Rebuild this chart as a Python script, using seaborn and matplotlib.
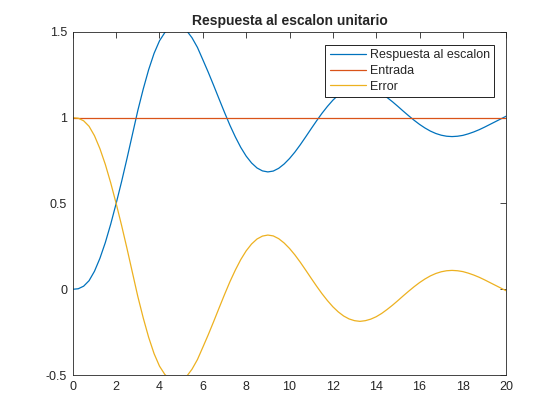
import matplotlib
matplotlib.use('Agg')

import pandas as pd
import matplotlib.pyplot as plt
import seaborn as sns

# ─────────────────────────────────────────
# datos (paso 0.25 s)
# ─────────────────────────────────────────
t = [0.00, 0.25, 0.50, 0.75, 1.00, 1.25, 1.50, 1.75, 2.00, 2.25,
     2.50, 2.75, 3.00, 3.25, 3.50, 3.75, 4.00, 4.25, 4.50, 4.75,
     5.00, 5.25, 5.50, 5.75, 6.00, 6.25, 6.50, 6.75, 7.00, 7.25,
     7.50, 7.75, 8.00, 8.25, 8.50, 8.75, 9.00, 9.25, 9.50, 9.75,
     10.00, 10.25, 10.50, 10.75, 11.00, 11.25, 11.50, 11.75, 12.00, 12.25,
     12.50, 12.75, 13.00, 13.25, 13.50, 13.75, 14.00, 14.25, 14.50, 14.75,
     15.00, 15.25, 15.50, 15.75, 16.00, 16.25, 16.50, 16.75, 17.00, 17.25,
     17.50, 17.75, 18.00, 18.25, 18.50, 18.75, 19.00, 19.25, 19.50, 19.75,
     20.00]

respuesta = [0.000, 0.003, 0.018, 0.050, 0.105, 0.180, 0.272, 0.380, 0.500, 0.627,
             0.762, 0.902, 1.042, 1.167, 1.280, 1.375, 1.448, 1.497, 1.526, 1.535,
             1.530, 1.508, 1.466, 1.410, 1.338, 1.265, 1.188, 1.109, 1.031, 0.956,
             0.888, 0.827, 0.776, 0.736, 0.707, 0.690, 0.684, 0.689, 0.705, 0.730,
             0.762, 0.800, 0.843, 0.889, 0.936, 0.982, 1.026, 1.066, 1.102, 1.132,
             1.156, 1.173, 1.183, 1.187, 1.183, 1.174, 1.160, 1.141, 1.118, 1.093,
             1.066, 1.038, 1.011, 0.985, 0.961, 0.940, 0.922, 0.908, 0.898, 0.892,
             0.890, 0.892, 0.897, 0.906, 0.917, 0.930, 0.945, 0.961, 0.977, 0.993,
             1.009]

error = [1.000, 0.997, 0.982, 0.950, 0.895, 0.820, 0.728, 0.620, 0.500, 0.373,
         0.238, 0.098, -0.042, -0.167, -0.280, -0.375, -0.448, -0.497, -0.526, -0.535,
         -0.530, -0.508, -0.466, -0.410, -0.338, -0.265, -0.188, -0.109, -0.031, 0.044,
         0.112, 0.173, 0.224, 0.264, 0.293, 0.310, 0.316, 0.311, 0.295, 0.270,
         0.238, 0.200, 0.157, 0.111, 0.064, 0.018, -0.026, -0.066, -0.102, -0.132,
         -0.156, -0.173, -0.183, -0.187, -0.183, -0.174, -0.160, -0.141, -0.118, -0.093,
         -0.066, -0.038, -0.011, 0.015, 0.039, 0.060, 0.078, 0.092, 0.102, 0.108,
         0.110, 0.108, 0.103, 0.094, 0.083, 0.070, 0.055, 0.039, 0.023, 0.007,
         -0.009]

t_entrada = [0, 20]
entrada = [1, 1]

series = ["Respuesta al escalon", "Entrada", "Error"]
colores = ["#0072BD", "#D95319", "#EDB120"]

df = pd.concat([
    pd.DataFrame({"t": t, "valor": respuesta, "serie": series[0]}),
    pd.DataFrame({"t": t_entrada, "valor": entrada, "serie": series[1]}),
    pd.DataFrame({"t": t, "valor": error, "serie": series[2]}),
], ignore_index=True)

# ─────────────────────────────────────────
# estilo tipo MATLAB
# ─────────────────────────────────────────
sns.set_style("white")
plt.rcParams['font.family'] = ['Liberation Sans', 'DejaVu Sans']
plt.rcParams['xtick.direction'] = 'in'
plt.rcParams['ytick.direction'] = 'in'
plt.rcParams['xtick.top'] = True
plt.rcParams['ytick.right'] = True

fig = plt.figure(figsize=(5.6, 4.2), dpi=100)
ax = fig.add_axes([0.130, 0.107, 0.774, 0.817])

sns.lineplot(data=df, x="t", y="valor", hue="serie", hue_order=series,
             palette=colores, linewidth=0.9, ax=ax, sort=False)

ax.set_xlim(0, 20)
ax.set_ylim(-0.5, 1.5)
ax.set_xticks(range(0, 21, 2))
ax.set_yticks([-0.5, 0, 0.5, 1, 1.5])
ax.set_yticklabels(["-0.5", "0", "0.5", "1", "1.5"])
ax.set_xlabel("")
ax.set_ylabel("")
ax.tick_params(axis='both', labelsize=9, colors='#262626', length=4, width=0.6, pad=4)
for s in ax.spines.values():
    s.set_color('#262626')
    s.set_linewidth(0.6)

ax.set_title("Respuesta al escalon unitario", fontsize=10, fontweight='bold', pad=5)

leg = ax.legend(loc='upper right', bbox_to_anchor=(0.972, 0.962), borderaxespad=0,
                fontsize=9, frameon=True, fancybox=False, framealpha=1,
                edgecolor='black', handlelength=2.9, labelspacing=0.3,
                handletextpad=0.3, borderpad=0.35)
leg.get_frame().set_linewidth(0.6)

fig.savefig("out.png", dpi=100)
plt.close()
